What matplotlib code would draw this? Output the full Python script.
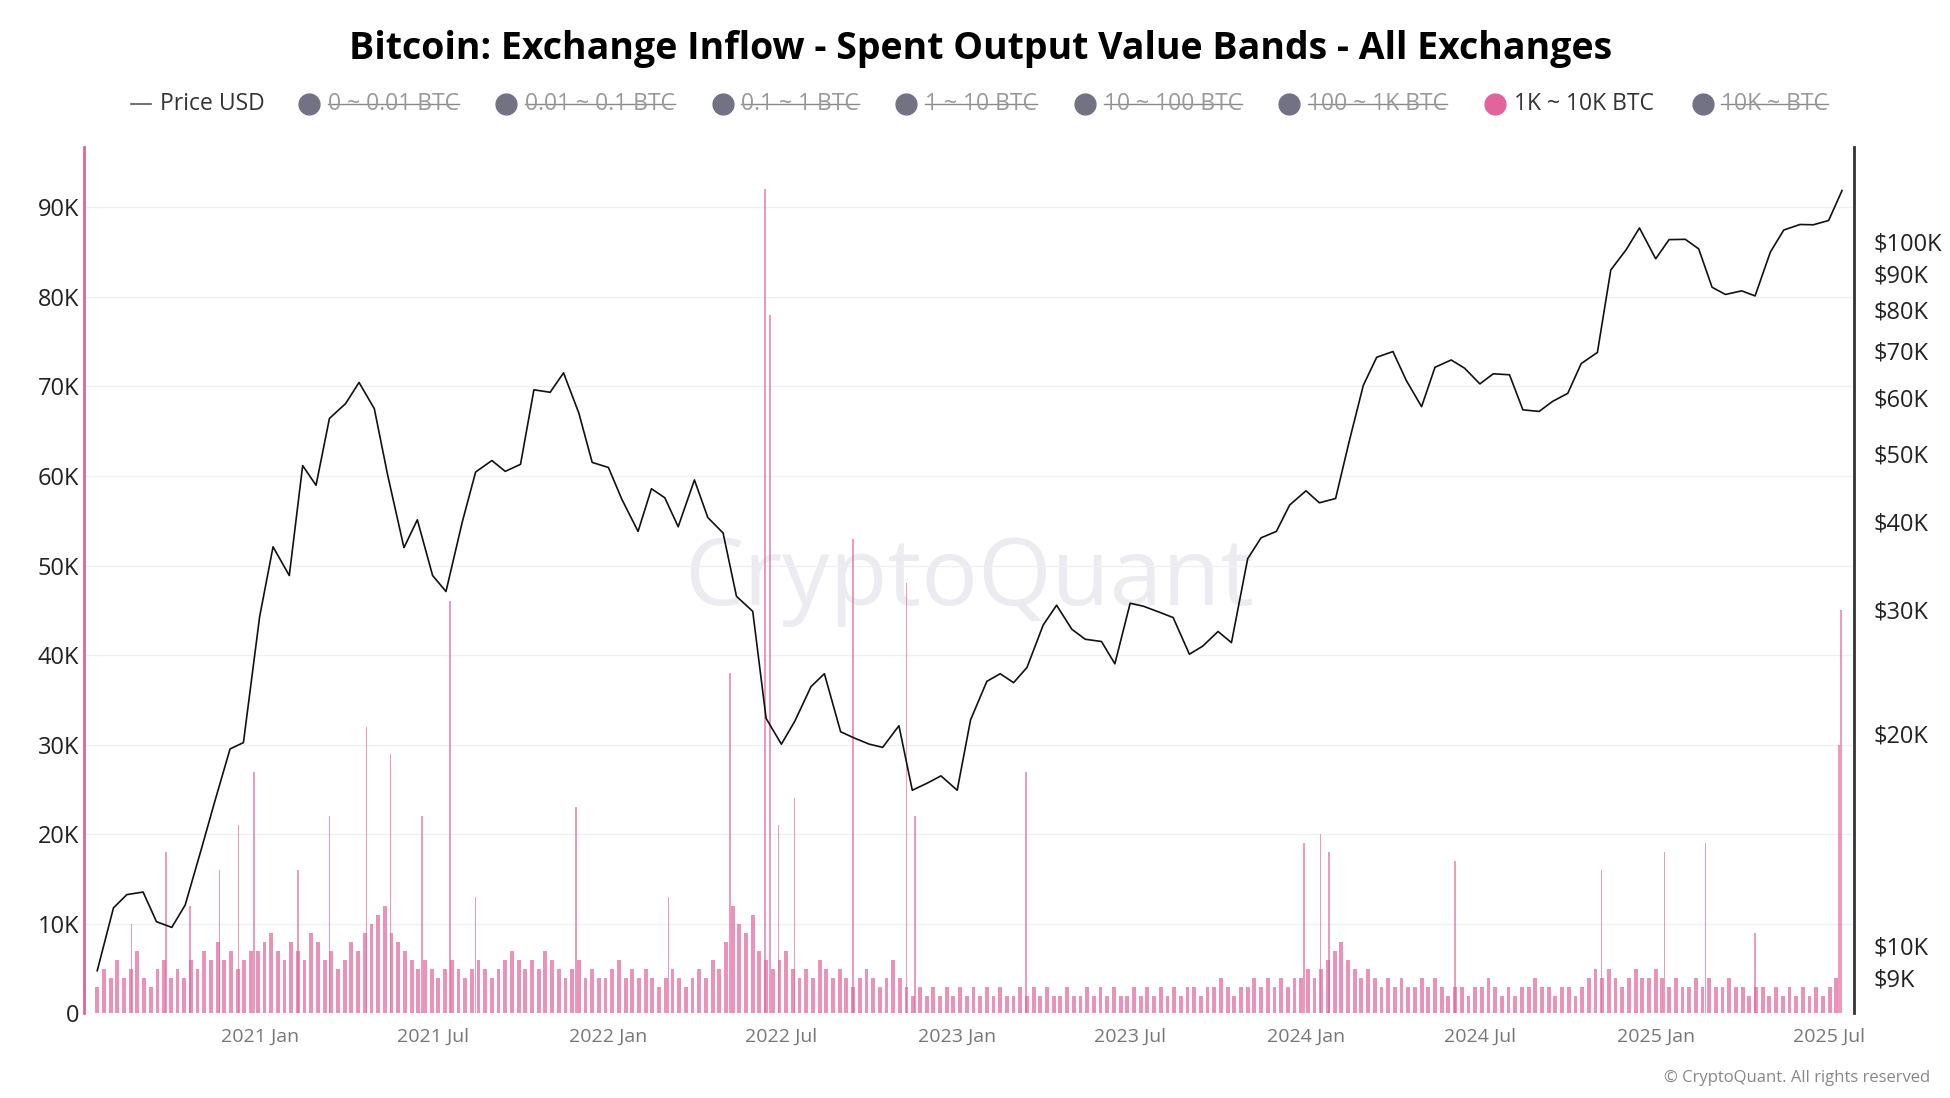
import matplotlib.pyplot as plt
import numpy as np
import pandas as pd

plt.rcParams["font.family"] = "Open Sans"

# BTC price (USD), semi-monthly from 2020-07-15
price_k = [9.2, 11.3, 11.8, 11.9, 10.8, 10.6, 11.4, 13.7, 16.0, 19.0, 19.4,
           29.3, 36.8, 33.5, 48.0, 45.0, 56.0, 58.8, 63.0, 57.8, 46.5, 36.7, 40.2,
           33.5, 31.8, 39.9, 47.0, 48.8, 47.1, 48.2, 61.5, 61.0, 65.0, 57.0, 48.5,
           47.7, 43.0, 38.7, 44.5, 43.2, 39.3, 45.8, 40.5, 38.5, 31.3, 29.8, 21.0,
           19.3, 20.8, 23.3, 24.3, 20.1, 19.7, 19.3, 19.1, 20.5, 16.6, 17.0, 17.4,
           16.6, 20.9, 23.7, 24.3, 23.6, 24.8, 28.5, 30.4, 28.1, 27.2, 27.0, 25.1,
           30.6, 30.3, 29.7, 29.2, 25.9, 26.6, 27.9, 26.9, 35.4, 37.9, 38.7, 42.2,
           44.2, 42.5, 43.1, 51.8, 62.4, 68.4, 69.7, 63.4, 58.2, 66.2, 67.8, 66.0,
           62.7, 64.8, 64.6, 57.6, 57.3, 59.2, 60.8, 67.0, 69.5, 91.0, 97.2, 104.4,
           94.4, 100.5, 100.6, 97.5, 86.0, 84.0, 85.0, 83.6, 96.5, 103.7, 105.6, 105.5,
           107.0, 118.0]

# weekly 1K~10K BTC band inflow (K BTC) from 2020-07-15
inflow_2020 = [3, 5, 4, 6, 4, 5, 7, 4, 3, 5, 6, 4, 5, 4, 6, 5, 7, 6, 8, 6, 7, 5, 6, 7]
inflow_2021 = [7, 8, 9, 7, 6, 8, 7, 6, 9, 8, 6, 7, 5, 6, 8, 7, 9, 10, 11, 12, 9, 8, 7, 6, 5, 6,
               5, 4, 5, 6, 5, 4, 5, 6, 5, 4, 5, 6, 7, 6, 5, 6, 5, 7, 6, 5, 4, 5, 6, 4, 5, 4]
inflow_2022 = [4, 5, 6, 4, 5, 4, 5, 4, 3, 4, 5, 4, 3, 4, 5, 4, 6, 5, 8, 12, 10, 9, 11, 7, 6, 5,
               6, 7, 5, 4, 5, 4, 6, 5, 4, 5, 4, 3, 4, 5, 4, 3, 4, 6, 4, 3, 2, 3, 2, 3, 2, 3]
inflow_2023 = [2, 3, 2, 3, 2, 3, 2, 3, 2, 2, 3, 2, 3, 2, 3, 2, 2, 3, 2, 2, 3, 2, 3, 2, 3, 2,
               2, 3, 2, 3, 2, 3, 2, 3, 2, 3, 3, 2, 3, 3, 4, 3, 2, 3, 3, 4, 3, 4, 3, 4, 3, 4]
inflow_2024 = [4, 5, 4, 5, 6, 7, 8, 6, 5, 4, 5, 4, 3, 4, 3, 4, 3, 3, 4, 3, 4, 3, 2, 3, 3, 2,
               3, 3, 4, 3, 2, 3, 2, 3, 3, 4, 3, 3, 2, 3, 3, 2, 3, 4, 5, 4, 5, 4, 3, 4, 5, 4]
inflow_2025 = [4, 5, 4, 3, 4, 3, 3, 4, 3, 4, 3, 3, 4, 3, 3, 2, 3, 3, 2, 3, 2, 3, 2, 3, 2, 3, 2, 3, 4]

spike_dates = ["2020-08-20", "2020-09-25", "2020-10-20", "2020-11-20", "2020-12-10", "2020-12-26",
               "2021-02-10", "2021-03-15", "2021-04-23", "2021-05-18", "2021-06-20", "2021-07-19",
               "2021-08-15", "2021-11-28", "2022-03-05", "2022-05-08", "2022-06-14", "2022-06-19",
               "2022-06-28", "2022-07-15", "2022-09-14", "2022-11-09", "2022-11-18", "2023-03-14",
               "2023-12-30", "2024-01-16", "2024-01-25", "2024-06-05", "2024-11-05", "2025-01-10",
               "2025-02-22", "2025-04-15", "2025-07-12", "2025-07-14"]
spike_k = [10, 18, 12, 16, 21, 27, 16, 22, 32, 29, 22, 46, 13, 23, 13, 38, 92, 78, 21, 24, 53, 48,
           22, 27, 19, 20, 18, 17, 16, 18, 19, 9, 30, 45]

legend_labels = ["0 ~ 0.01 BTC", "0.01 ~ 0.1 BTC", "0.1 ~ 1 BTC", "1 ~ 10 BTC",
                 "10 ~ 100 BTC", "100 ~ 1K BTC", "1K ~ 10K BTC", "10K ~ BTC"]

pink = "#e2649c"

price_dates = pd.date_range("2020-07-15", periods=len(price_k), freq="SMS")
inflow = inflow_2020 + inflow_2021 + inflow_2022 + inflow_2023 + inflow_2024 + inflow_2025
inflow_dates = pd.date_range("2020-07-15", periods=len(inflow), freq="7D")

fig = plt.figure(figsize=(19.5, 10.98), dpi=100)
ax = fig.add_axes([0.043, 0.077, 0.908, 0.789])
ax2 = ax.twinx()

ax.bar(inflow_dates, np.array(inflow) * 1000, width=4, color=pink, alpha=0.7, linewidth=0)
ax.bar(pd.to_datetime(spike_dates), np.array(spike_k) * 1000, width=1.5, color=pink, alpha=0.65, linewidth=0)
ax.set_ylim(0, 96700)
ax.set_yticks(np.arange(0, 90001, 10000))
ax.set_yticklabels(["0"] + [f"{v}K" for v in range(10, 91, 10)])
ax.grid(axis="y", color="#f0f0f0", linewidth=1)
ax.set_axisbelow(True)

ax2.plot(price_dates, np.array(price_k) * 1000, color="#111111", linewidth=1.2)
ax2.set_yscale("log")
ax2.set_ylim(8000, 136000)
ticks = [9000, 10000, 20000, 30000, 40000, 50000, 60000, 70000, 80000, 90000, 100000]
ax2.set_yticks(ticks)
ax2.set_yticklabels([f"${t // 1000}K" for t in ticks])
ax2.minorticks_off()

ax.set_xlim(pd.Timestamp("2020-07-01"), pd.Timestamp("2025-07-28"))
xt = pd.to_datetime(["2021-01-01", "2021-07-01", "2022-01-01", "2022-07-01", "2023-01-01",
                     "2023-07-01", "2024-01-01", "2024-07-01", "2025-01-01", "2025-07-01"])
ax.set_xticks(xt)
ax.set_xticklabels([d.strftime("%Y %b") for d in xt], color="#777777", fontsize=14)
ax.tick_params(axis="x", length=0, pad=10)
ax.tick_params(axis="y", length=0, labelsize=17, colors="#222222")
ax2.tick_params(axis="y", length=0, labelsize=17, colors="#222222", pad=14)

for s in ["top", "bottom"]:
    ax.spines[s].set_visible(False)
    ax2.spines[s].set_visible(False)
ax.spines["right"].set_visible(False)
ax2.spines["left"].set_color(pink)
ax2.spines["left"].set_linewidth(2)
ax2.spines["right"].set_color("#333333")
ax2.spines["right"].set_linewidth(2)

ax.text(0.5, 0.5, "CryptoQuant", transform=ax.transAxes, fontsize=68, color="#e6e6ee",
        ha="center", va="center", alpha=0.8, zorder=0)

fig.text(0.503, 0.955, "Bitcoin: Exchange Inflow - Spent Output Value Bands - All Exchanges",
         ha="center", va="center", fontsize=27, fontweight="bold")

# legend
W = 1560.0
ly = 1 - 83 / 878
fig.add_artist(plt.Line2D([105 / W, 121 / W], [ly, ly], color="#555555", linewidth=1.2))
fig.text(128 / W, ly, "Price USD", fontsize=16.5, va="center", color="#333333")
circle_x = [247, 405, 578, 725, 868, 1031, 1196, 1362]
renderer = fig.canvas.get_renderer()
for cx, lab in zip(circle_x, legend_labels):
    active = lab == "1K ~ 10K BTC"
    fig.add_artist(plt.Line2D([cx / W], [ly], marker="o", markersize=15,
                              color=pink if active else "#727284", linestyle="none"))
    t = fig.text((cx + 15) / W, ly, lab, fontsize=16.5, va="center",
                 color="#333333" if active else "#999999")
    if not active:
        bb = t.get_window_extent(renderer).transformed(fig.transFigure.inverted())
        fig.add_artist(plt.Line2D([bb.x0, bb.x1], [ly, ly], color="#888888", linewidth=1))

fig.text(0.99, 0.015, "© CryptoQuant. All rights reserved", ha="right", fontsize=12, color="#888888")

fig.savefig("out.png", dpi=100)
